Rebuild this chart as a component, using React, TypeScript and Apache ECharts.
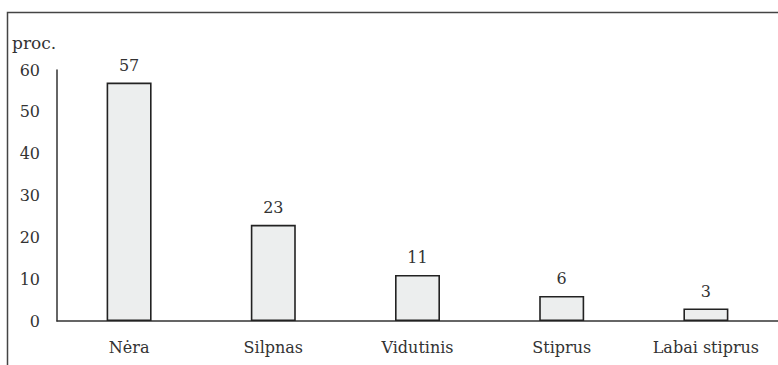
import React, { useEffect, useRef } from "react";
import * as echarts from "echarts";

const categories = ["Nėra", "Silpnas", "Vidutinis", "Stiprus", "Labai stiprus"];
const values = [57, 23, 11, 6, 3];
const yTicks = { min: 0, max: 60, interval: 10 };
const unitLabel = "proc.";

const FONT = "DejaVu Serif";
const FS = 16;

export default function App() {
  const ref = useRef<HTMLDivElement>(null);
  useEffect(() => {
    if (!ref.current) return;
    const chart = echarts.init(ref.current, undefined, { renderer: "svg" });
    chart.setOption({
      animation: false,
      backgroundColor: "#ffffff",
      textStyle: { fontFamily: FONT },
      graphic: [
        {
          type: "rect",
          shape: { x: 7.5, y: 12.5, width: 800, height: 400 },
          style: { fill: "none", stroke: "#444", lineWidth: 1.5 },
          silent: true,
        },
        {
          type: "text",
          left: 12,
          top: 34,
          style: { text: unitLabel, fontSize: 17, fontFamily: FONT, fill: "#333" },
        },
      ],
      grid: { left: 57, top: 70, width: 722, bottom: 44, containLabel: false },
      xAxis: {
        type: "category",
        data: categories,
        axisLine: { lineStyle: { color: "#333", width: 1.5 } },
        axisTick: { show: false },
        axisLabel: { color: "#333", fontSize: FS, fontFamily: FONT, margin: 18 },
      },
      yAxis: {
        type: "value",
        min: yTicks.min,
        max: yTicks.max,
        interval: yTicks.interval,
        axisLine: { show: true, lineStyle: { color: "#333", width: 1.5 } },
        axisTick: { show: false },
        splitLine: { show: false },
        axisLabel: { color: "#333", fontSize: FS, fontFamily: FONT, margin: 17 },
      },
      series: [
        {
          type: "bar",
          data: values,
          barWidth: 45,
          itemStyle: { color: "#eceeee", borderColor: "#222", borderWidth: 1.6 },
          label: {
            show: true,
            position: "top",
            distance: 9,
            color: "#333",
            fontSize: FS,
            fontFamily: FONT,
          },
        },
      ],
    });
    return () => chart.dispose();
  }, []);
  return (
    <div
      ref={ref}
      style={{ position: "fixed", left: 0, top: 0, width: 778, height: 365 }}
    />
  );
}
